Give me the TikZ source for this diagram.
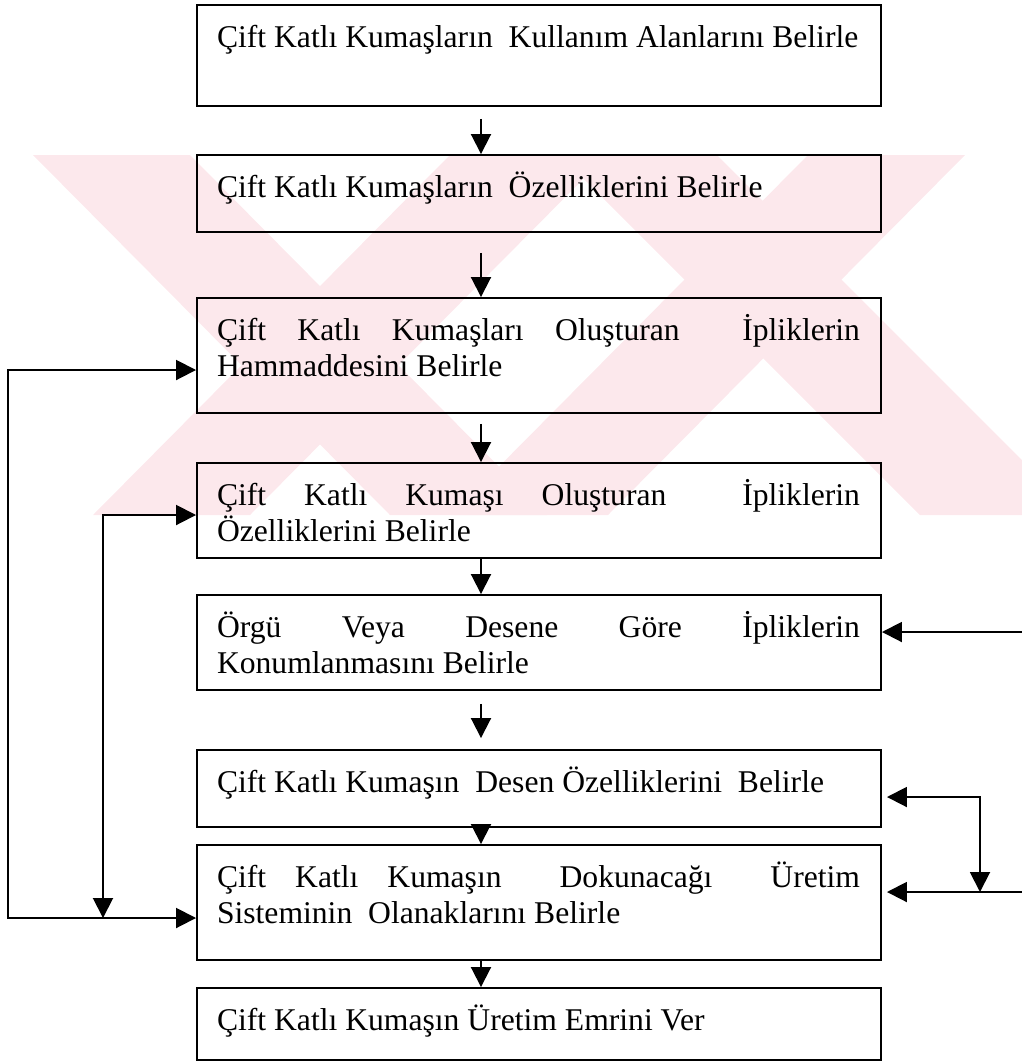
\documentclass[tikz,border=0pt]{standalone}
\usepackage{fontspec}
\setmainfont{Liberation Serif}
\usetikzlibrary{arrows.meta}
\definecolor{wmark}{RGB}{252,232,236}

\begin{document}
\begin{tikzpicture}[>={Triangle[length=0.4cm,width=0.4cm]}, line width=1.1pt,
                        box/.style={draw, rectangle, minimum width=13.68cm, inner sep=0pt},
                        lbl/.style={anchor=base west, text width=12.86cm, align=justify, inner sep=0pt,
                                    font=\fontsize{18}{20.5}\selectfont, xshift=0.4cm, yshift=-0.86cm}]

                        \useasboundingbox (0,0) rectangle (20.44,-21.26);

                        % Watermark in the background
                        \fill[wmark] (0.66,-3.10) -- (3.80,-3.10) -- (10.94,-10.30) -- (7.80,-10.30) -- cycle;
                        \fill[wmark] (9.00,-3.10) -- (12.14,-3.10) -- (5.00,-10.30) -- (1.86,-10.30) -- cycle;
                        \fill[wmark] (11.20,-3.10) -- (14.34,-3.10) -- (21.54,-10.30) -- (18.40,-10.30) -- cycle;
                        \fill[wmark] (16.16,-3.10) -- (19.30,-3.10) -- (12.16,-10.30) -- (9.02,-10.30) -- cycle;

                        % Define nodes
                        \node[box, minimum height=2.02cm] (b1) at (10.78,-1.11) {}; % Kullanim alanlari
                        \node[box, minimum height=1.54cm] (b2) at (10.78,-3.87) {}; % Ozellikler
                        \node[box, minimum height=2.30cm] (b3) at (10.78,-7.11) {}; % Hammadde
                        \node[box, minimum height=1.90cm] (b4) at (10.78,-10.21) {}; % Iplik ozellikleri
                        \node[box, minimum height=1.90cm] (b5) at (10.78,-12.85) {}; % Konumlanma
                        \node[box, minimum height=1.54cm] (b6) at (10.78,-15.77) {}; % Desen
                        \node[box, minimum height=2.30cm] (b7) at (10.78,-18.05) {}; % Uretim sistemi
                        \node[box, minimum height=1.44cm] (b8) at (10.78,-20.48) {}; % Uretim emri

                        % Texts in the boxes
                        \node[lbl] (t1) at (b1.north west) {Çift Katlı Kumaşların\ \ Kullanım Alanlarını Belirle};
                        \node[lbl] (t2) at (b2.north west) {Çift Katlı Kumaşların\ \ Özelliklerini Belirle};
                        \node[lbl] (t3) at (b3.north west) {Çift Katlı Kumaşları Oluşturan\ \ İpliklerin\linebreak Hammaddesini Belirle};
                        \node[lbl] (t4) at (b4.north west) {Çift Katlı Kumaşı Oluşturan\ \ İpliklerin\linebreak Özelliklerini Belirle};
                        \node[lbl] (t5) at (b5.north west) {Örgü Veya Desene Göre İpliklerin\linebreak Konumlanmasını Belirle};
                        \node[lbl] (t6) at (b6.north west) {Çift Katlı Kumaşın\ \ Desen Özelliklerini\ \ Belirle};
                        \node[lbl] (t7) at (b7.north west) {Çift Katlı Kumaşın\ \ Dokunacağı\ \ Üretim\linebreak Sisteminin\ \ Olanaklarını Belirle};
                        \node[lbl] (t8) at (b8.north west) {Çift Katlı Kumaşın Üretim Emrini Ver};

                        % Loop corners and free ends
                        \coordinate (lo) at (0.16,-18.36);
                        \coordinate (li) at (2.06,-18.36);
                        \coordinate (r5) at (20.44,-12.64);
                        \coordinate (r7) at (20.44,-17.84);
                        \coordinate (rj) at (19.60,-17.84);

                        % Define edges
                        \draw[->] ([xshift=-1.16cm,yshift=-0.24cm]b1.south) -- ([xshift=-1.16cm]b2.north);
                        \draw[->] ([xshift=-1.16cm,yshift=-0.40cm]b2.south) -- ([xshift=-1.16cm]b3.north);
                        \draw[->] ([xshift=-1.16cm,yshift=-0.20cm]b3.south) -- ([xshift=-1.16cm]b4.north);
                        \draw[->] ([xshift=-1.16cm]b4.south) -- ([xshift=-1.16cm]b5.north);
                        \draw[->] ([xshift=-1.16cm,yshift=-0.26cm]b5.south) -- ([xshift=-1.16cm,yshift=0.22cm]b6.north);
                        \draw[->] ([xshift=-1.16cm]b6.south) -- ([xshift=-1.16cm]b7.north);
                        \draw[->] ([xshift=-1.16cm]b7.south) -- ([xshift=-1.16cm]b8.north);

                        % Feedback lines on the left
                        \draw[<->] ([yshift=-0.29cm]b3.west) -| (lo) -- ([yshift=-0.31cm]b7.west);
                        \draw[<->] ([yshift=-0.09cm]b4.west) -| (li);

                        % Lines coming in on the right
                        \draw[->] (r5) -- ([yshift=0.21cm]b5.east);
                        \draw[<->] ([xshift=0.1cm,yshift=-0.17cm]b6.east) -| (rj);
                        \draw[->] (r7) -- ([xshift=0.1cm,yshift=0.21cm]b7.east);
                        \end{tikzpicture}
\end{document}
